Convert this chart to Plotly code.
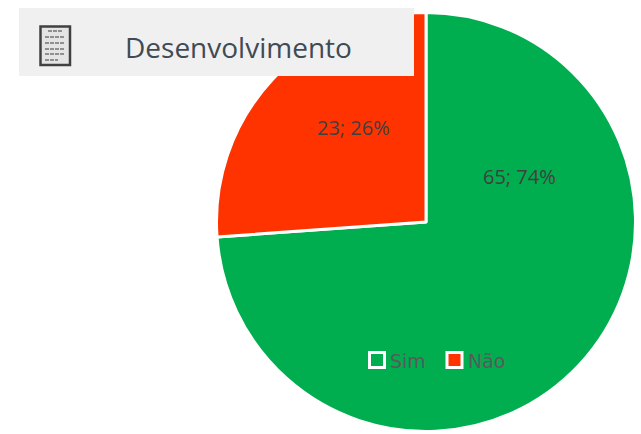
import plotly.graph_objects as go

categories = ["Sim", "Não"]
values = [65, 23]
percents = [74, 26]
colors = ["#00AE4F", "#FF3300"]
title = "Desenvolvimento"
W, H = 641, 434

def px(x): return x / W
def py(y): return 1 - y / H

fig = go.Figure(go.Pie(
    labels=categories, values=values, sort=False, direction="clockwise", rotation=0,
    marker=dict(colors=colors, line=dict(color="white", width=3)),
    textinfo="none", hoverinfo="label+value+percent", showlegend=False,
    domain=dict(x=[px(216.5), px(635.5)], y=[py(431.5), py(12.5)]),
))

def rect(x0, y0, x1, y1, fill, line=None):
    return dict(type="rect", xref="paper", yref="paper", x0=px(x0), x1=px(x1), y0=py(y1), y1=py(y0),
                fillcolor=fill, line=line or dict(width=0), layer="above")

shapes = [rect(19, 8, 414, 76, "#F0F0F0"),
          rect(40.5, 26.5, 70, 65, "#E4E4E4", dict(color="#404040", width=2.5))]
for y, xa, xb in [(31, 48, 62), (37, 45, 65), (43, 45, 65), (49, 45, 65), (54, 45, 65), (60, 45, 58)]:
    shapes.append(dict(type="line", xref="paper", yref="paper", x0=px(xa), x1=px(xb), y0=py(y), y1=py(y),
                       line=dict(color="#8F8F8F", width=2, dash="4px,1px"), layer="above"))
# legend swatches
shapes.append(rect(369.5, 352.5, 384.5, 367.5, colors[0], dict(color="white", width=3)))
shapes.append(rect(447, 352.5, 462, 367.5, colors[1], dict(color="white", width=3)))

def label(text, x, y, family, size, color):
    return dict(text=text, xref="paper", yref="paper", x=px(x), y=py(y), showarrow=False,
                xanchor="center", yanchor="middle", font=dict(family=family, size=size, color=color))

annotations = [
    label(title, 238, 47, "Open Sans", 28, "#404A55"),
    label(f"{values[0]}; {percents[0]}%", 519, 176, "Open Sans", 20, "#404040"),
    label(f"{values[1]}; {percents[1]}%", 354, 127, "Open Sans", 20, "#404040"),
    label(categories[0], 407.5, 361, "DejaVu Sans", 19, "#5A5A5A"),
    label(categories[1], 486, 361, "DejaVu Sans", 19, "#5A5A5A"),
]

fig.update_layout(
    width=W, height=H, margin=dict(l=0, r=0, t=0, b=0), paper_bgcolor="white",
    shapes=shapes, annotations=annotations, showlegend=False,
)
fig.write_html("out.html", config=dict(displayModeBar=False),
               post_script="document.body.style.margin='0';document.documentElement.style.overflow='hidden';")
